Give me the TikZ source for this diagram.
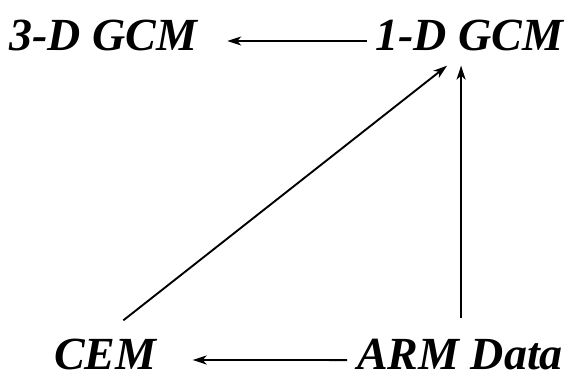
\documentclass[tikz,border=0pt]{standalone}
\usepackage{fontspec}
\setmainfont{Liberation Serif}
\usetikzlibrary{arrows.meta, calc}

\begin{document}
\begin{tikzpicture}[
  x=1pt, y=-1pt,
  model/.style={inner sep=0pt, anchor=base west,
                font=\fontsize{46}{55}\selectfont\bfseries\itshape},
  arr/.style={-{Stealth[length=14pt, width=9pt, inset=4pt]}, line width=1.9pt}
]
\useasboundingbox (0,0) rectangle (581,380);

\node[model] (threed) at (9,50) {3-D GCM};
\node[model] (oned) at (375,50) {1-D GCM};
\node[model] (cem) at (54,369) {CEM};
\node[model] (arm) at (357,369) {ARM Data};

% edges
\draw[arr] ($(oned.west)+(-8,6)$) -- ($(threed.east)+(30,6)$);
\draw[arr] ($(arm.west)+(-10,6)$) -- ($(cem.east)+(36,6)$);
\draw[arr] ($(arm.north)+(1,-20)$) -- ($(arm.north |- oned.south)+(1,15)$);
\draw[arr] ($(cem.north)+(18,-18)$) -- ($(oned.south)+(-22,15)$);

\end{tikzpicture}
\end{document}
